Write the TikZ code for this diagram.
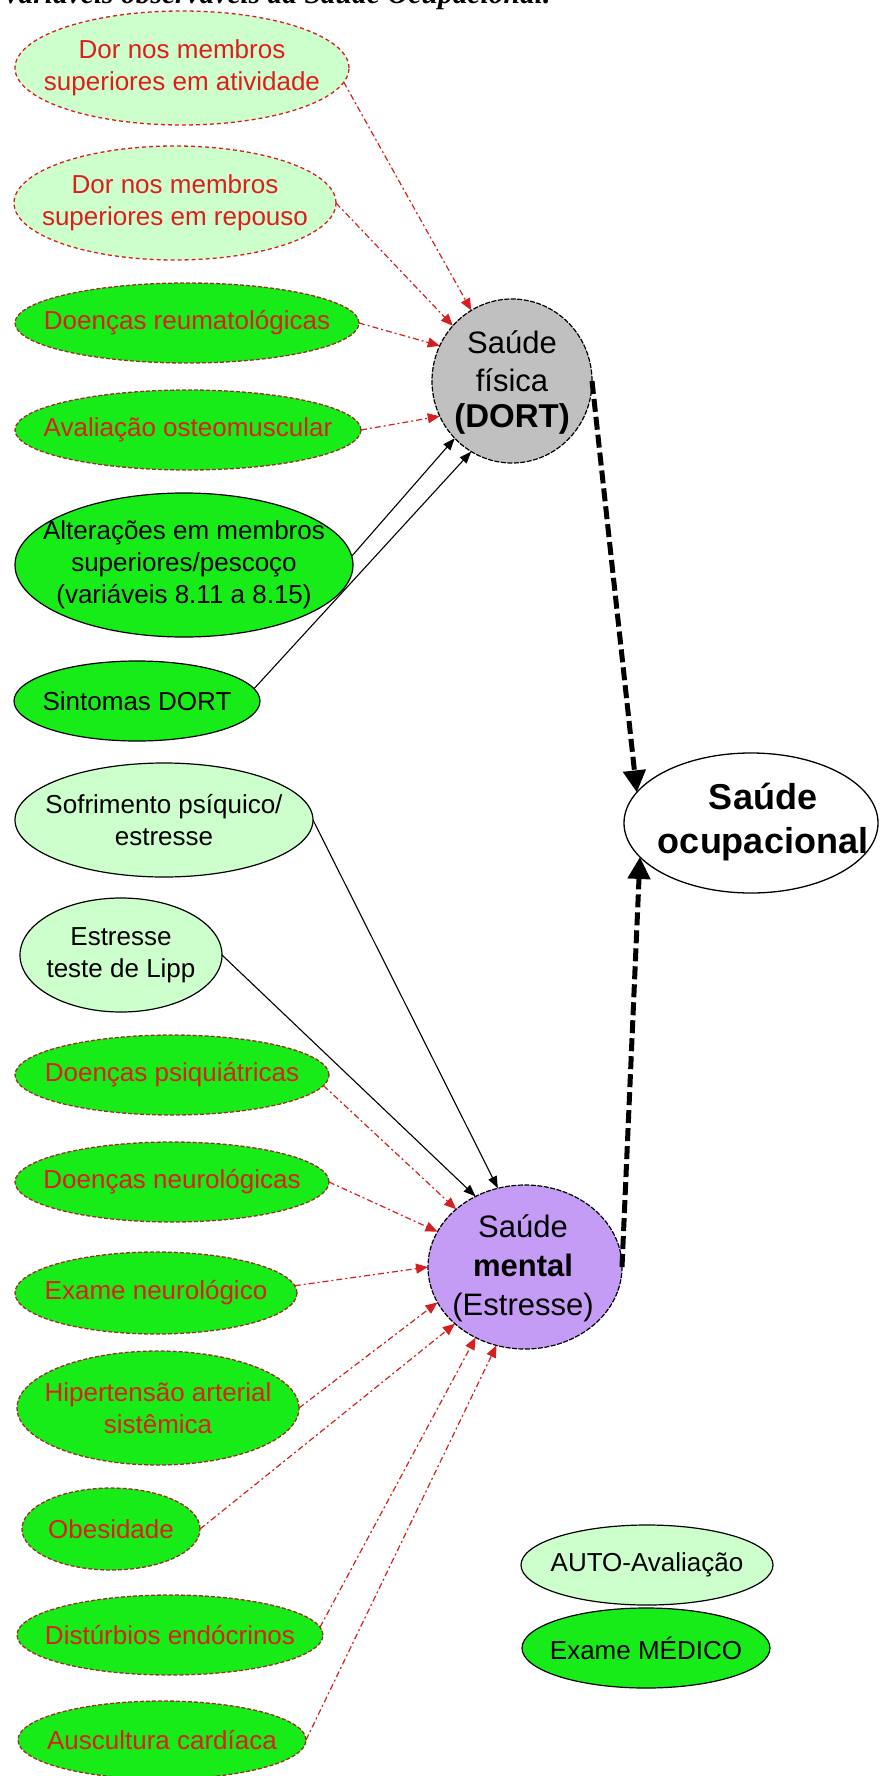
\documentclass[tikz,border=0pt]{standalone}
\usepackage{fontspec}
\setmainfont{Liberation Sans}
\newfontfamily\titlefont{Liberation Serif}
\usetikzlibrary{shapes.geometric,arrows.meta}

\definecolor{lightg}{RGB}{204,255,204}
\definecolor{brightg}{RGB}{24,236,24}
\definecolor{fisgray}{RGB}{192,192,192}
\definecolor{menpurple}{RGB}{196,156,246}
\definecolor{redtxt}{RGB}{222,30,30}
\definecolor{redline}{RGB}{212,32,32}
\definecolor{rimred}{RGB}{150,50,40}

\newcommand\fsz[2]{\fontsize{#1}{#2}\selectfont}

\tikzset{
  oval/.style={ellipse, inner sep=0pt, outer sep=0pt},
  txt/.style={inner sep=0pt, align=center, font=\fsz{26}{32}},
  selfred/.style={oval, fill=lightg, draw=redline, line width=1.3pt, dash pattern=on 4pt off 3pt},
  medred/.style={oval, fill=brightg, draw=rimred, line width=1.3pt, dash pattern=on 4pt off 2pt},
  medblack/.style={oval, fill=brightg, draw=black, line width=1.2pt},
  selfblack/.style={oval, fill=lightg, draw=black, line width=1.2pt},
  redtext/.style={txt, text=redtxt},
  blacktext/.style={txt, text=black},
  redarrow/.style={draw=redline, line width=1.2pt, dash pattern=on 6pt off 3pt on 2pt off 3pt,
    -{Triangle[length=12pt,width=10pt,fill=redline]}},
  blackarrow/.style={draw=black, line width=1.1pt, -{Triangle[length=12pt,width=9pt]}},
  bigarrow/.style={draw=black, line width=5pt, dash pattern=on 13pt off 5pt,
    -{Triangle[length=22pt,width=22pt]}},
}

\begin{document}
\begin{tikzpicture}[x=1pt,y=-1pt]
\useasboundingbox (0,0) rectangle (879,1776);
\clip (0,0) rectangle (879,1776);

% heading, partly above the page edge
\node[anchor=base west, inner sep=0pt, font=\titlefont\bfseries\itshape\fsz{29.5}{34}] (title) at (2,4)
  {Variáveis observáveis da Saúde Ocupacional.};

% --- physical health indicators ---
\node[selfred, minimum width=334, minimum height=114] (e1) at (182,68) {};
\node[redtext] (e1t) at (e1) {Dor nos membros\\superiores em atividade};
\node[selfred, minimum width=322, minimum height=114] (e2) at (175,203) {};
\node[redtext] (e2t) at (e2) {Dor nos membros\\superiores em repouso};
\node[medred, minimum width=344, minimum height=80] (e3) at (187,323) {};
\node[redtext] (e3t) at (e3) {Doenças reumatológicas};
\node[medred, minimum width=346, minimum height=80] (e4) at (188,430) {};
\node[redtext] (e4t) at (e4) {Avaliação osteomuscular};
\node[medblack, minimum width=338, minimum height=144] (e5) at (184,565) {};
\node[blacktext] (e5t) at (e5) {Alterações em membros\\superiores/pescoço\\(variáveis 8.11 a 8.15)};
\node[medblack, minimum width=246, minimum height=80] (e6) at (137,701) {};
\node[blacktext] (e6t) at (e6) {Sintomas DORT};

% --- mental health indicators ---
\node[selfblack, minimum width=298, minimum height=114] (e7) at (164,820) {};
\node[blacktext] (e7t) at (e7) {Sofrimento psíquico/\\estresse};
\node[selfblack, minimum width=202, minimum height=114] (e8) at (121,955) {};
\node[blacktext] (e8t) at (e8) {Estresse\\teste de Lipp};
\node[medred, minimum width=314, minimum height=80] (e9) at (172,1075) {};
\node[redtext] (e9t) at (e9) {Doenças psiquiátricas};
\node[medred, minimum width=314, minimum height=80] (e10) at (172,1182) {};
\node[redtext] (e10t) at (e10) {Doenças neurológicas};
\node[medred, minimum width=282, minimum height=82] (e11) at (156,1293) {};
\node[redtext] (e11t) at (e11) {Exame neurológico};
\node[medred, minimum width=282, minimum height=114] (e12) at (158,1408) {};
\node[redtext] (e12t) at (e12) {Hipertensão arterial\\sistêmica};
\node[medred, minimum width=178, minimum height=82] (e13) at (111,1529) {};
\node[redtext] (e13t) at (e13) {Obesidade};
\node[medred, minimum width=306, minimum height=80] (e14) at (170,1635) {};
\node[redtext] (e14t) at (e14) {Distúrbios endócrinos};
\node[medred, minimum width=288, minimum height=78] (e15) at (162,1740) {};
\node[redtext] (e15t) at (e15) {Auscultura cardíaca};

% --- latent constructs ---
\node[oval, fill=fisgray, draw=black, line width=1.2pt, dash pattern=on 5pt off 1.5pt,
      minimum width=160, minimum height=164] (fis) at (512,381) {};
\node[txt, font=\fsz{31}{38}] (fist) at (512,383) {Saúde\\física\\[-2pt]{\bfseries\fsz{33}{40}(DORT)}};
\node[oval, fill=menpurple, draw=black, line width=1.2pt, dash pattern=on 5pt off 1.5pt,
      minimum width=194, minimum height=164] (men) at (525,1267) {};
\node[txt, font=\fsz{31}{39}] (ment) at (523,1268) {Saúde\\{\bfseries mental}\\(Estresse)};
\node[oval, fill=white, draw=black, line width=1.3pt,
      minimum width=254, minimum height=140] (ocu) at (751,823) {};
\node[txt, font=\bfseries\fsz{36}{44}] (ocut) at (763,822) {Saúde\\ocupacional};

% --- legend ---
\node[selfblack, minimum width=252, minimum height=80] (auto) at (647,1565) {};
\node[blacktext] (autot) at (auto) {AUTO-Avaliação};
\node[medblack, minimum width=248, minimum height=80] (medico) at (646,1648) {};
\node[blacktext] (medicot) at (medico) {Exame MÉDICO};

% --- connectors into physical health ---
\draw[redarrow] (e1.-5) -- (fis.120);
\draw[redarrow] (e2.east) -- (fis.137);
\draw[redarrow] (e3.east) -- (fis.154);
\draw[redarrow] (e4.east) -- (fis.206);
\draw[blackarrow] (e5.3) -- (fis.225);
\draw[blackarrow] (e6.6) -- (fis.240);

% --- connectors into mental health ---
\draw[blackarrow] (e7.east) -- (men.109);
\draw[blackarrow] (e8.east) -- (men.125);
\draw[redarrow] (e9.-4) -- (men.140);
\draw[redarrow] (e10.east) -- (men.158);
\draw[redarrow] (e11.3) -- (men.180);
\draw[redarrow] (e12.east) -- (men.202);
\draw[redarrow] (e13.east) -- (men.219);
\draw[redarrow] (e14.3) -- (men.235);
\draw[redarrow] (e15.east) -- (men.250);

% --- both constructs feed occupational health ---
\draw[bigarrow] (fis.east) -- (ocu.165);
\draw[bigarrow] (men.east) -- (ocu.197);
\end{tikzpicture}
\end{document}
